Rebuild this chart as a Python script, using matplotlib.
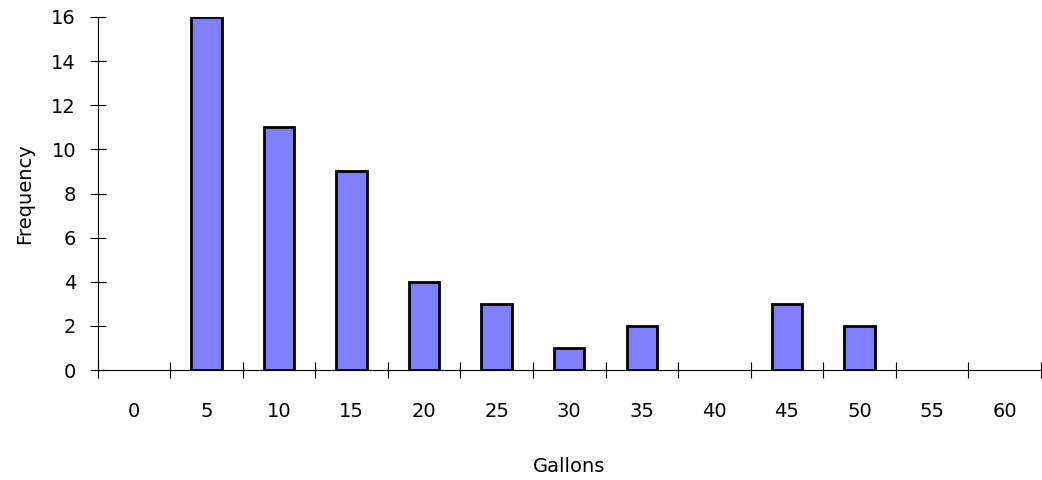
import matplotlib.pyplot as plt
import numpy as np

gallons = ["0", "5", "10", "15", "20", "25", "30", "35", "40", "45", "50", "55", "60"]
frequency = [0, 16, 11, 9, 4, 3, 1, 2, 0, 3, 2, 0, 0]

plt.rcParams['font.family'] = ['DejaVu Sans']

fig = plt.figure(figsize=(10.42, 4.8), dpi=100)
ax = fig.add_axes([0.0936, 0.229, 0.9054, 0.7356])

x = np.arange(len(gallons))
bars = ax.bar(x, frequency, width=0.42, color="#8080FF", edgecolor="black", linewidth=2, zorder=3)
for b, f in zip(bars, frequency):
    if f == 0:
        b.set_visible(False)  # empty classes get no outline

ax.set_xlim(-0.5, len(gallons) - 0.5)
ax.set_ylim(0, 16)
ax.set_yticks(range(0, 17, 2))
ax.set_xticks(x)
ax.set_xticklabels(gallons)
ax.set_xticks(np.arange(-0.5, len(gallons), 1), minor=True)

ax.tick_params(axis="x", which="major", length=0, pad=23, labelsize=14)
ax.tick_params(axis="x", which="minor", direction="inout", length=11, width=0.8)
ax.tick_params(axis="y", direction="inout", length=11, width=0.8, pad=10, labelsize=14)

for side in ["top", "right"]:
    ax.spines[side].set_visible(False)
for side in ["left", "bottom"]:
    ax.spines[side].set_linewidth(0.8)

ax.set_xlabel("Gallons", fontsize=14, labelpad=26)
ax.set_ylabel("Frequency", fontsize=14, labelpad=12)

fig.savefig("out.png", dpi=100)
